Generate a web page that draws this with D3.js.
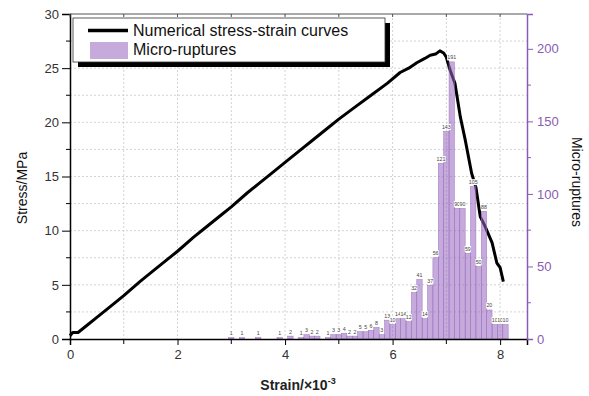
<!DOCTYPE html>
<html>
<head>
<meta charset="utf-8">
<script src="https://cdn.jsdelivr.net/npm/d3@7"></script>
<style>
  body { margin: 0; background: #fff; }
  svg { font-family: "Liberation Sans", Arial, sans-serif; }
</style>
</head>
<body>
<svg id="chart" width="589" height="396"></svg>
<script>
// stress-strain curve (strain x10^-3, stress MPa)
const strain = [0, 0.05, 0.15, 0.3, 0.5, 0.8, 1.0, 1.3, 1.5, 1.8, 2.0, 2.3, 2.5, 2.8, 3.0, 3.3, 3.5, 3.8, 4.0, 4.3, 4.5, 4.8, 5.0, 5.3, 5.6, 5.9, 6.14, 6.3, 6.45, 6.6, 6.7, 6.8, 6.88, 6.95, 7.0, 7.07, 7.16, 7.26, 7.35, 7.47, 7.55, 7.63, 7.72, 7.85, 7.94, 8.0, 8.06];
const stress = [0.3, 0.6, 0.6, 1.2, 2.0, 3.2, 4.0, 5.3, 6.1, 7.3, 8.1, 9.4, 10.2, 11.4, 12.2, 13.5, 14.3, 15.5, 16.3, 17.5, 18.3, 19.5, 20.3, 21.4, 22.5, 23.6, 24.6, 25.0, 25.5, 25.9, 26.2, 26.3, 26.6, 26.4, 26.0, 24.8, 23.6, 20.5, 18.4, 15.3, 14.0, 11.3, 10.4, 8.9, 7.0, 6.6, 5.3];

// micro-rupture counts per 0.1 strain bin (bin centre)
const binStrain = [3.0, 3.2, 3.5, 3.9, 4.1, 4.3, 4.4, 4.5, 4.6, 4.8, 4.9, 5.0, 5.1, 5.2, 5.3, 5.4, 5.5, 5.6, 5.7, 5.8, 5.9, 6.0, 6.1, 6.2, 6.3, 6.4, 6.5, 6.6, 6.7, 6.8, 6.9, 7.0, 7.1, 7.2, 7.3, 7.4, 7.5, 7.6, 7.7, 7.8, 7.9, 8.0, 8.1];
const ruptures = [1, 1, 1, 1, 2, 1, 3, 2, 2, 1, 3, 3, 4, 2, 2, 5, 5, 6, 8, 3, 13, 10, 14, 14, 12, 32, 41, 14, 37, 56, 121, 143, 191, 90, 90, 59, 105, 50, 88, 20, 10, 10, 10];

const stressTicks = [0, 5, 10, 15, 20, 25, 30];
const strainTicks = [0, 2, 4, 6, 8];
const ruptureTicks = [0, 50, 100, 150, 200];

const legendLabels = ['Numerical stress-strain curves', 'Micro-ruptures'];

const margin = { left: 70, right: 62, top: 14, bottom: 57 };
const width = 589 - margin.left - margin.right;
const height = 396 - margin.top - margin.bottom;
const purple = '#8a5cb4';
const barFill = 'rgb(150,100,190)';

let svg = d3.select('#chart');
let g = svg.append('g').attr('transform', `translate(${margin.left},${margin.top})`);

let x = d3.scaleLinear().domain([0, 8.5]).range([0, width]);
let y = d3.scaleLinear().domain([0, 30]).range([height, 0]);
let y2 = d3.scaleLinear().domain([0, 224]).range([height, 0]);

// grid
g.append('g')
    .selectAll('line')
    .data(d3.range(2.5, 30, 2.5))
    .enter()
    .append('line')
    .attr('x1', 0).attr('x2', width)
    .attr('y1', (d) => y(d)).attr('y2', (d) => y(d))
    .attr('stroke', '#c8c8c8').attr('stroke-width', 0.8)
    .attr('stroke-dasharray', '2,2');

g.append('g')
    .selectAll('line')
    .data(d3.range(1, 9, 1))
    .enter()
    .append('line')
    .attr('x1', (d) => x(d)).attr('x2', (d) => x(d))
    .attr('y1', 0).attr('y2', height)
    .attr('stroke', '#c8c8c8').attr('stroke-width', 0.8)
    .attr('stroke-dasharray', '2,2');

// stress-strain curve
let curve = strain.map((s, i) => [s, stress[i]]);
g.append('path')
    .datum(curve)
    .attr('fill', 'none')
    .attr('stroke', '#000')
    .attr('stroke-width', 3)
    .attr('stroke-linejoin', 'round')
    .attr('d', d3.line().x((d) => x(d[0])).y((d) => y(d[1])));

// bars (semi transparent, over the curve)
let bw = x(0.1) - x(0);
g.append('g')
    .selectAll('rect')
    .data(binStrain)
    .enter()
    .append('rect')
    .attr('x', (d) => x(d) - bw / 2)
    .attr('y', (d, i) => y2(ruptures[i]))
    .attr('width', bw)
    .attr('height', (d, i) => height - y2(ruptures[i]))
    .attr('fill', barFill)
    .attr('fill-opacity', 0.55)
    .attr('stroke', '#9a74c2')
    .attr('stroke-width', 0.5);

// bar labels with white boxes (later ones cover earlier ones)
let labels = g.append('g');
binStrain.forEach((d, i) => {
    let t = String(ruptures[i]);
    let w = t.length * 2.9 + 0.6;
    let cy = y2(ruptures[i]) - 4.5;
    labels.append('rect')
        .attr('x', x(d) - w / 2).attr('y', cy - 3)
        .attr('width', w).attr('height', 6)
        .attr('fill', '#fff');
    labels.append('text')
        .attr('x', x(d)).attr('y', cy + 2)
        .attr('text-anchor', 'middle')
        .style('font-size', '5.3px')
        .style('fill', '#444')
        .text(t);
});

// left axis
let yAxis = g.append('g')
    .call(d3.axisLeft(y).tickValues(stressTicks).tickSize(8).tickPadding(3));
yAxis.selectAll('text').style('font-size', '13px').style('fill', '#333');
yAxis.append('g').selectAll('line')
    .data(d3.range(2.5, 30, 5))
    .enter().append('line')
    .attr('x1', -4).attr('x2', 0)
    .attr('y1', (d) => y(d)).attr('y2', (d) => y(d))
    .attr('stroke', '#000');
yAxis.select('.domain').attr('stroke-width', 1.5);

// bottom axis
let xAxis = g.append('g')
    .attr('transform', `translate(0,${height})`)
    .call(d3.axisBottom(x).tickValues(strainTicks).tickSize(6).tickPadding(5).tickFormat(d3.format('d')));
xAxis.selectAll('text').style('font-size', '13px').style('fill', '#333');
xAxis.append('g').selectAll('line')
    .data([1, 3, 5, 7])
    .enter().append('line')
    .attr('x1', (d) => x(d)).attr('x2', (d) => x(d))
    .attr('y1', 0).attr('y2', 5)
    .attr('stroke', '#000');
xAxis.select('.domain').attr('stroke-width', 1.5);

// top frame with inward ticks
g.append('line')
    .attr('x1', 0).attr('x2', width).attr('y1', 0).attr('y2', 0)
    .attr('stroke', '#555').attr('stroke-width', 1.2);
g.append('g').selectAll('line')
    .data(d3.range(0, 9, 1))
    .enter().append('line')
    .attr('x1', (d) => x(d)).attr('x2', (d) => x(d))
    .attr('y1', 0).attr('y2', 3)
    .attr('stroke', '#555');

// right axis
let y2Axis = g.append('g')
    .attr('transform', `translate(${width},0)`)
    .call(d3.axisRight(y2).tickValues(ruptureTicks).tickSize(6).tickPadding(4));
y2Axis.selectAll('text').style('font-size', '13px').style('fill', purple);
y2Axis.selectAll('line').attr('stroke', purple);
y2Axis.select('.domain').attr('stroke', purple).attr('stroke-width', 1.5);
y2Axis.append('g').selectAll('line')
    .data([25, 75, 125, 175])
    .enter().append('line')
    .attr('x1', 0).attr('x2', 4)
    .attr('y1', (d) => y2(d)).attr('y2', (d) => y2(d))
    .attr('stroke', purple);

// axis titles
svg.append('text')
    .attr('transform', `translate(27,${margin.top + 174}) rotate(-90)`)
    .attr('text-anchor', 'middle')
    .style('font-size', '14px')
    .style('fill', '#111')
    .text('Stress/MPa');

svg.append('text')
    .attr('transform', `translate(572,${margin.top + 168}) rotate(90)`)
    .attr('text-anchor', 'middle')
    .style('font-size', '14px')
    .style('fill', '#111')
    .text('Micro-ruptures');

let xt = svg.append('text')
    .attr('x', margin.left + 228)
    .attr('y', 390)
    .attr('text-anchor', 'middle')
    .style('font-size', '14px')
    .style('font-weight', 'bold')
    .style('fill', '#222');
xt.append('tspan').text('Strain/×10');
xt.append('tspan').attr('dy', -6).style('font-size', '9px').text('-3');

// legend
let lg = svg.append('g').attr('transform', 'translate(73,18)');
lg.append('rect').attr('x', 5).attr('y', 5).attr('width', 312).attr('height', 44).attr('fill', '#000');
lg.append('rect').attr('x', 0).attr('y', 0).attr('width', 312).attr('height', 44)
    .attr('fill', '#fff').attr('stroke', '#333').attr('stroke-width', 0.8);
lg.append('line').attr('x1', 15).attr('x2', 55).attr('y1', 12.5).attr('y2', 12.5)
    .attr('stroke', '#000').attr('stroke-width', 3.5);
lg.append('rect').attr('x', 17).attr('y', 24).attr('width', 38).attr('height', 17)
    .attr('fill', barFill).attr('fill-opacity', 0.55);
lg.selectAll('.lt')
    .data(legendLabels)
    .enter().append('text')
    .attr('x', 60)
    .attr('y', (d, i) => 18 + i * 19)
    .style('font-size', '16px')
    .style('fill', '#111')
    .text((d) => d);
</script>
</body>
</html>
